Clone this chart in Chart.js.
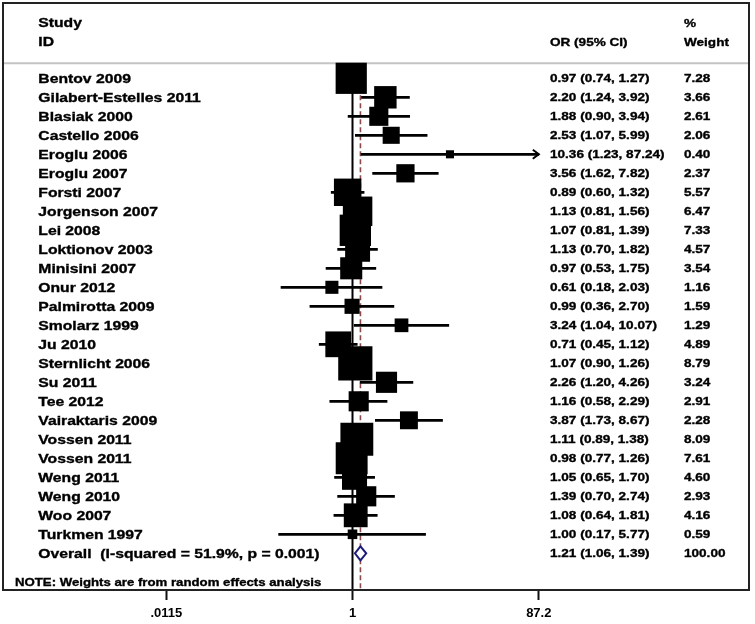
<!DOCTYPE html>
<html><head><meta charset="utf-8">
<script src="https://cdn.jsdelivr.net/npm/chart.js@4/dist/chart.umd.min.js"></script>
<style>html,body{margin:0;padding:0;background:#fff;overflow:hidden}#wrap{width:755px;height:624px;position:relative}</style>
</head><body><div id="wrap"><canvas id="c" width="755" height="624"></canvas></div>
<script>
// ---- data ----
const studies = ["Bentov 2009","Gilabert-Estelles 2011","Blasiak 2000","Castello 2006","Eroglu 2006","Eroglu 2007","Forsti 2007","Jorgenson 2007","Lei 2008","Loktionov 2003","Minisini 2007","Onur 2012","Palmirotta 2009","Smolarz 1999","Ju 2010","Sternlicht 2006","Su 2011","Tee 2012","Vairaktaris 2009","Vossen 2011","Vossen 2011","Weng 2011","Weng 2010","Woo 2007","Turkmen 1997"];
const orValues = [0.97,2.20,1.88,2.53,10.36,3.56,0.89,1.13,1.07,1.13,0.97,0.61,0.99,3.24,0.71,1.07,2.26,1.16,3.87,1.11,0.98,1.05,1.39,1.08,1.00];
const ciLower  = [0.74,1.24,0.90,1.07,1.23,1.62,0.60,0.81,0.81,0.70,0.53,0.18,0.36,1.04,0.45,0.90,1.20,0.58,1.73,0.89,0.77,0.65,0.70,0.64,0.17];
const ciUpper  = [1.27,3.92,3.94,5.99,87.24,7.82,1.32,1.56,1.39,1.82,1.75,2.03,2.70,10.07,1.12,1.26,4.26,2.29,8.67,1.38,1.26,1.70,2.74,1.81,5.77];
const weights  = [7.28,3.66,2.61,2.06,0.40,2.37,5.57,6.47,7.33,4.57,3.54,1.16,1.59,1.29,4.89,8.79,3.24,2.91,2.28,8.09,7.61,4.60,2.93,4.16,0.59];
const overallLabel = "Overall  (I-squared = 51.9%, p = 0.001)";
const overallOR = 1.21, overallLower = 1.06, overallUpper = 1.39, overallWeight = 100.00;
const tickValues = [0.0115, 1, 87.2];
const tickLabels = [".0115", "1", "87.2"];
const headerStudy = ["Study", "ID"];
const headerOR = "OR (95% CI)";
const headerWeight = ["%", "Weight"];
const noteText = "NOTE: Weights are from random effects analysis";

// ---- layout constants ----
const BOX = {left: 3, top: 3, right: 749, bottom: 590};
const ROW0 = 78.3, ROWH = 19;
const X_ONE = 352.5, PX_PER_DEC = 96;
const xMin = Math.pow(10, (BOX.left - X_ONE) / PX_PER_DEC);
const xMax = Math.pow(10, (BOX.right - X_ONE) / PX_PER_DEC);
const yMin = -(ROW0 - BOX.top) / ROWH;
const yMax = yMin + (BOX.bottom - BOX.top) / ROWH;
const n = studies.length;
const rows = studies.map((_, i) => i);
const Y_OVERALL = n, Y_NOTE = n + 1.5, Y_H1 = -2.93, Y_H2 = -1.93, Y_SEP = -0.79;
const COL_LABEL = 38.3, COL_NOTE = 15, COL_OR = 550, COL_W = 684;
const STRETCH = 1.2;
const FONT = '"Liberation Sans", Arial, sans-serif';
const sqSide = weights.map(w => 11.2 * Math.sqrt(w) + 1);
const fmt = v => v.toFixed(2);

function drawText(ctx, str, x, yPx, size) {
  ctx.save();
  ctx.font = `bold ${size}px ${FONT}`;
  ctx.fillStyle = '#000';
  ctx.strokeStyle = '#000';
  ctx.lineWidth = 0.35;
  ctx.textBaseline = 'alphabetic';
  ctx.textAlign = 'left';
  ctx.translate(x, yPx + size * 0.358);
  ctx.scale(STRETCH, 1);
  ctx.fillText(str, 0, 0);
  ctx.strokeText(str, 0, 0);
  ctx.restore();
}

const forestPlugin = {
  id: 'forest',
  beforeDatasetsDraw(chart) {
    const ctx = chart.ctx, xs = chart.scales.x, ys = chart.scales.y;
    const sepY = ys.getPixelForValue(Y_SEP);
    ctx.save();
    ctx.strokeStyle = '#c4c4c4'; ctx.lineWidth = 2;
    ctx.beginPath(); ctx.moveTo(BOX.left, sepY); ctx.lineTo(BOX.right, sepY); ctx.stroke();
    const x1 = xs.getPixelForValue(1);
    ctx.strokeStyle = '#000'; ctx.lineWidth = 2;
    ctx.beginPath(); ctx.moveTo(x1, sepY); ctx.lineTo(x1, BOX.bottom); ctx.stroke();
    const xo = xs.getPixelForValue(overallOR);
    ctx.strokeStyle = '#8a4a4a'; ctx.lineWidth = 1.6; ctx.setLineDash([5, 3]);
    ctx.beginPath(); ctx.moveTo(xo, sepY); ctx.lineTo(xo, BOX.bottom); ctx.stroke();
    ctx.restore();
  },
  afterDatasetsDraw(chart) {
    const ctx = chart.ctx, xs = chart.scales.x, ys = chart.scales.y;
    ctx.save();
    const axisMax = tickValues[tickValues.length - 1];
    rows.forEach(i => {
      if (ciUpper[i] > axisMax) {
        const tx = xs.getPixelForValue(ciUpper[i]), ty = ys.getPixelForValue(i);
        ctx.strokeStyle = '#000'; ctx.lineWidth = 2;
        ctx.beginPath(); ctx.moveTo(tx - 6, ty - 4.5); ctx.lineTo(tx, ty); ctx.lineTo(tx - 6, ty + 4.5); ctx.stroke();
      }
    });
    const dy = ys.getPixelForValue(Y_OVERALL);
    const dl = xs.getPixelForValue(overallLower), dc = xs.getPixelForValue(overallOR), dr = xs.getPixelForValue(overallUpper);
    ctx.strokeStyle = '#1c1c78'; ctx.fillStyle = '#fff'; ctx.lineWidth = 2;
    ctx.beginPath(); ctx.moveTo(dl, dy); ctx.lineTo(dc, dy - 7); ctx.lineTo(dr, dy); ctx.lineTo(dc, dy + 7); ctx.closePath();
    ctx.fill(); ctx.stroke();
    ctx.strokeStyle = '#222'; ctx.lineWidth = 2;
    ctx.strokeRect(BOX.left, BOX.top, BOX.right - BOX.left, BOX.bottom - BOX.top);
    ctx.restore();
    const h1 = ys.getPixelForValue(Y_H1), h2 = ys.getPixelForValue(Y_H2);
    drawText(ctx, headerStudy[0], COL_LABEL, h1, 13.1);
    drawText(ctx, headerStudy[1], COL_LABEL, h2, 13.1);
    drawText(ctx, headerOR, COL_OR, h2, 11.3);
    drawText(ctx, headerWeight[0], COL_W, h1, 11.3);
    drawText(ctx, headerWeight[1], COL_W, h2, 11.3);
    rows.forEach(i => {
      const y = ys.getPixelForValue(i);
      drawText(ctx, studies[i], COL_LABEL, y, 13.1);
      drawText(ctx, `${fmt(orValues[i])} (${fmt(ciLower[i])}, ${fmt(ciUpper[i])})`, COL_OR, y, 11.3);
      drawText(ctx, fmt(weights[i]), COL_W, y, 11.3);
    });
    const oy = ys.getPixelForValue(Y_OVERALL);
    drawText(ctx, overallLabel, COL_LABEL, oy, 13.1);
    drawText(ctx, `${fmt(overallOR)} (${fmt(overallLower)}, ${fmt(overallUpper)})`, COL_OR, oy, 11.3);
    drawText(ctx, fmt(overallWeight), COL_W, oy, 11.3);
    drawText(ctx, noteText, COL_NOTE, ys.getPixelForValue(Y_NOTE), 11);
  }
};

new Chart(document.getElementById('c'), {
  type: 'scatter',
  data: {
    datasets: [
      {
        type: 'bar', indexAxis: 'y',
        data: rows.map(i => ({y: i, x: [ciLower[i], ciUpper[i]]})),
        backgroundColor: '#000', borderWidth: 0, borderSkipped: false,
        barThickness: 2, grouped: false, order: 2
      },
      {
        type: 'scatter',
        data: rows.map(i => ({x: orValues[i], y: i})),
        pointStyle: 'rect',
        pointRadius: sqSide.map(s => s / Math.SQRT2),
        pointHoverRadius: sqSide.map(s => s / Math.SQRT2),
        backgroundColor: '#000', borderWidth: 0, order: 1
      }
    ]
  },
  options: {
    responsive: false, animation: false, events: [],
    layout: {autoPadding: false, padding: {left: BOX.left, right: 755 - BOX.right, top: BOX.top, bottom: 0}},
    plugins: {legend: {display: false}, tooltip: {enabled: false}},
    scales: {
      x: {
        type: 'logarithmic', min: xMin, max: xMax, bounds: 'data', offset: false,
        afterBuildTicks: s => { s.ticks = tickValues.map(v => ({value: v})); },
        afterFit: s => { s.height = 624 - BOX.bottom; },
        grid: {display: true, offset: false, drawOnChartArea: false, drawTicks: true, tickLength: 10, tickWidth: 2, tickColor: '#111', color: '#111'},
        border: {display: false},
        ticks: {
          callback: (v, i) => tickLabels[i],
          font: {family: FONT, size: 13, weight: 'bold'}, color: '#000',
          padding: 6, maxRotation: 0, autoSkip: false
        }
      },
      y: {type: 'linear', reverse: true, min: yMin, max: yMax, offset: false, grid: {offset: false}, display: false}
    }
  },
  plugins: [forestPlugin]
});
</script></body></html>
